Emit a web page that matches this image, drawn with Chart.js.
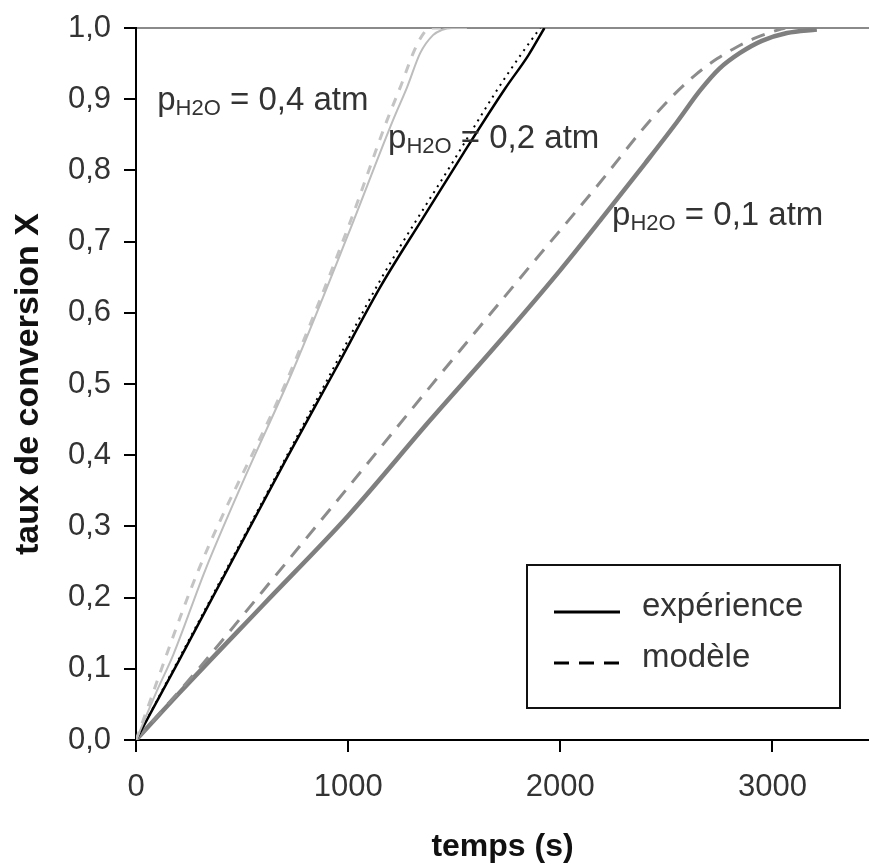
<!DOCTYPE html>
<html>
<head>
<meta charset="utf-8">
<script src="https://cdn.jsdelivr.net/npm/chart.js@4.4.1/dist/chart.umd.min.js"></script>
<style>
  html, body { margin: 0; padding: 0; background: #fff; }
</style>
</head>
<body>
<canvas id="myChart" width="869" height="868"></canvas>
<script>
// Werte: temps (s) -> taux de conversion X
let t04exp = [0, 100, 176, 327, 500, 741, 1000, 1212, 1278, 1340, 1400, 1440, 1490, 1560];
let x04exp = [0, 0.07, 0.12, 0.239, 0.36, 0.52, 0.71, 0.871, 0.917, 0.965, 0.99, 0.997, 1.0, 1.0];
let t04mod = [0, 295, 712, 1000, 1184, 1250, 1307, 1350, 1385, 1450];
let x04mod = [0, 0.239, 0.506, 0.72, 0.871, 0.92, 0.965, 0.99, 1.0, 1.0];

let t02exp = [0, 200, 430, 700, 939, 1151, 1350, 1543, 1740, 1850, 1925];
let x02exp = [0, 0.11, 0.239, 0.39, 0.52, 0.636, 0.732, 0.824, 0.915, 0.962, 1.0];
let t02mod = [0, 400, 900, 1150, 1500, 1700, 1820, 1905];
let x02mod = [0, 0.225, 0.505, 0.645, 0.815, 0.912, 0.965, 1.0];

let t01exp = [0, 204, 600, 1000, 1386, 1700, 2000, 2202, 2400, 2550, 2658, 2750, 2847, 2950, 3068, 3209];
let x01exp = [0, 0.066, 0.19, 0.315, 0.449, 0.555, 0.66, 0.735, 0.81, 0.868, 0.912, 0.943, 0.965, 0.982, 0.993, 0.998];
let t01mod = [0, 289, 600, 1000, 1386, 1800, 2187, 2400, 2531, 2640, 2740, 2830, 2920, 3002, 3060];
let x01mod = [0, 0.098, 0.21, 0.355, 0.496, 0.645, 0.783, 0.862, 0.905, 0.935, 0.957, 0.973, 0.986, 0.995, 1.0];

let pressures = ['0,4', '0,2', '0,1'];
let legendLabels = ['expérience', 'modèle'];
let xTicks = [0, 1000, 2000, 3000];

const FONT = '"Liberation Sans", Arial, sans-serif';

function pts(ts, xs) {
    return ts.map((t, i) => ({x: t, y: xs[i]}));
}

function line(ts, xs, color, width, dash) {
    return {
        data: pts(ts, xs),
        borderColor: color,
        borderWidth: width,
        borderDash: dash,
        pointRadius: 0,
        fill: false,
        cubicInterpolationMode: 'monotone'
    };
}

// Beschriftungen p_H2O = ... atm
const pLabels = {
    id: 'pLabels',
    afterDatasetsDraw(chart) {
        const ctx = chart.ctx;
        const sx = chart.scales.x, sy = chart.scales.y;
        const anchors = [[100, 0.885], [1188, 0.831], [2244, 0.723]];
        ctx.save();
        ctx.fillStyle = '#333';
        ctx.textAlign = 'left';
        ctx.textBaseline = 'alphabetic';
        for (let i = 0; i < pressures.length; i++) {
            let x = sx.getPixelForValue(anchors[i][0]);
            let y = sy.getPixelForValue(anchors[i][1]);
            ctx.font = '33px ' + FONT;
            ctx.fillText('p', x, y);
            x += ctx.measureText('p').width;
            ctx.font = '22px ' + FONT;
            ctx.fillText('H2O', x, y + 5);
            x += ctx.measureText('H2O').width;
            ctx.font = '33px ' + FONT;
            ctx.fillText(' = ' + pressures[i] + ' atm', x, y);
        }
        ctx.restore();
    }
};

// Legende im Diagramm
const boxLegend = {
    id: 'boxLegend',
    afterDraw(chart) {
        const ctx = chart.ctx;
        const a = chart.chartArea;
        const right = a.right - 29, bottom = a.bottom - 32;
        const left = right - 313, top = bottom - 143;
        ctx.save();
        ctx.strokeStyle = '#111';
        ctx.lineWidth = 2;
        ctx.strokeRect(left, top, right - left, bottom - top);
        const rows = [top + 47, top + 98];
        const dashes = [[], [15, 10]];
        for (let i = 0; i < legendLabels.length; i++) {
            ctx.beginPath();
            ctx.setLineDash(dashes[i]);
            ctx.lineWidth = 3;
            ctx.strokeStyle = '#000';
            ctx.moveTo(left + 27, rows[i]);
            ctx.lineTo(left + 93, rows[i]);
            ctx.stroke();
            ctx.setLineDash([]);
            ctx.fillStyle = '#333';
            ctx.font = '33px ' + FONT;
            ctx.textBaseline = 'middle';
            ctx.fillText(legendLabels[i], left + 115, rows[i] - 5);
        }
        ctx.restore();
    }
};

const ctx = document.getElementById('myChart').getContext('2d');

let myChart = new Chart(ctx, {
    type: 'line',
    data: {
        datasets: [
            line(t04exp, x04exp, '#bdbdbd', 2, []),
            line(t04mod, x04mod, '#c4c4c4', 3, [9, 9]),
            line(t02mod, x02mod, '#000', 2, [2, 5]),
            line(t02exp, x02exp, '#000', 2.5, []),
            line(t01mod, x01mod, '#8c8c8c', 3, [14, 10]),
            line(t01exp, x01exp, '#7f7f7f', 4.5, [])
        ]
    },
    options: {
        responsive: false,
        animation: false,
        layout: { padding: { top: 28, right: 0, left: 0, bottom: 0 } },
        plugins: {
            legend: { display: false },
            tooltip: { enabled: false }
        },
        scales: {
            x: {
                type: 'linear',
                min: 0,
                max: 3455,
                afterBuildTicks: (s) => { s.ticks = xTicks.map(v => ({value: v})); },
                afterFit: (s) => { s.height = 128; },
                ticks: {
                    font: { size: 31, family: FONT },
                    color: '#333',
                    padding: 17,
                    maxRotation: 0,
                    callback: (v) => String(v)
                },
                grid: {
                    drawOnChartArea: false,
                    tickColor: '#000',
                    tickLength: 12,
                    lineWidth: 2
                },
                border: { color: '#000', width: 2 },
                title: {
                    display: true,
                    text: 'temps (s)',
                    font: { size: 32, weight: 'bold', family: FONT },
                    color: '#111',
                    padding: { top: 0, bottom: 2 }
                }
            },
            y: {
                min: 0,
                max: 1,
                afterFit: (s) => { s.width = 136; s.paddingTop = 0; s.paddingBottom = 0; },
                ticks: {
                    stepSize: 0.1,
                    font: { size: 31, family: FONT },
                    color: '#333',
                    padding: 13,
                    callback: (v) => v.toFixed(1).replace('.', ',')
                },
                grid: {
                    color: (c) => (c.tick && c.tick.value === 1) ? '#8a8a8a' : 'rgba(0,0,0,0)',
                    tickColor: '#000',
                    tickLength: 12,
                    lineWidth: 2
                },
                border: { color: '#000', width: 2 },
                title: {
                    display: true,
                    text: 'taux de conversion X',
                    font: { size: 34, weight: 'bold', family: FONT },
                    color: '#111',
                    padding: { top: 8, bottom: 0 }
                }
            }
        }
    },
    plugins: [pLabels, boxLegend]
});
</script>
</body>
</html>
